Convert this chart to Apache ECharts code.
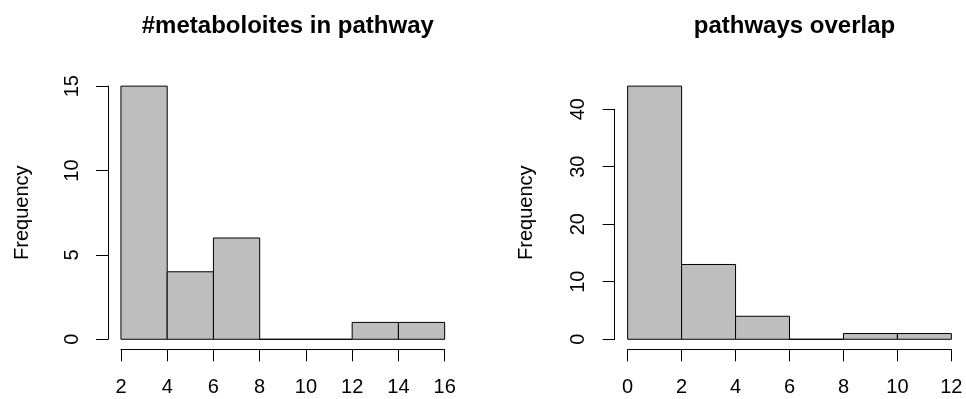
<!DOCTYPE html>
<html>
<head>
<meta charset="utf-8">
<title>Histograms</title>
<script src="https://cdn.jsdelivr.net/npm/echarts@6/dist/echarts.min.js"></script>
<style>
  html, body { margin: 0; padding: 0; background: #ffffff; }
  #chart { width: 966px; height: 399px; }
</style>
</head>
<body>
<div id="chart"></div>
<script>
// Histogram of metabolite counts per pathway
const metabBreaks = [2, 4, 6, 8, 10, 12, 14, 16];
const metabCounts = [15, 4, 6, 0, 0, 1, 1];
const metabXTicks = [2, 4, 6, 8, 10, 12, 14, 16];
const metabYTicks = [0, 5, 10, 15];

// Histogram of pathway overlaps
const overlapBreaks = [0, 2, 4, 6, 8, 10, 12];
const overlapCounts = [44, 13, 4, 0, 1, 1];
const overlapXTicks = [0, 2, 4, 6, 8, 10, 12];
const overlapYTicks = [0, 10, 20, 30, 40];

const titles = ['#metaboloites in pathway', 'pathways overlap'];
const yName = 'Frequency';

const FONT = '"Liberation Sans", Arial, Helvetica, sans-serif';
const INK = '#000000';
const BAR_FILL = '#BEBEBE';

// plot regions (pixels) for the two panels
const regions = [
  { left: 108, top: 76, width: 349.6, height: 273.4, nameGap: 76 },
  { left: 614.7, top: 76, width: 349.6, height: 273.4, nameGap: 78 }
];

const panels = [
  { breaks: metabBreaks, counts: metabCounts, xt: metabXTicks, yt: metabYTicks },
  { breaks: overlapBreaks, counts: overlapCounts, xt: overlapXTicks, yt: overlapYTicks }
];

const option = {
  animation: false,
  backgroundColor: '#ffffff',
  title: [],
  grid: [],
  xAxis: [],
  yAxis: [],
  series: []
};

panels.forEach(function (p, i) {
  const r = regions[i];
  const bmin = p.breaks[0], bmax = p.breaks[p.breaks.length - 1];
  const cmax = Math.max.apply(null, p.counts);
  // usual 4% padding of the data range on both axes
  const xlo = bmin - 0.04 * (bmax - bmin), xhi = bmax + 0.04 * (bmax - bmin);
  const ylo = -0.04 * cmax, yhi = cmax * 1.04;

  const toPx = function (v) { return r.left + (v - xlo) / (xhi - xlo) * r.width; };
  const toPy = function (v) { return r.top + (yhi - v) / (yhi - ylo) * r.height; };

  const xt0 = p.xt[0], xt1 = p.xt[p.xt.length - 1];
  const yt0 = p.yt[0], yt1 = p.yt[p.yt.length - 1];

  const gData = option.grid.length;
  // data grid
  option.grid.push({ left: r.left, top: r.top, width: r.width, height: r.height, containLabel: false });
  // x-axis grid (spans first..last tick)
  option.grid.push({ left: toPx(xt0), width: toPx(xt1) - toPx(xt0), top: r.top, height: r.height });
  // y-axis grid (spans first..last tick)
  option.grid.push({ left: r.left, width: r.width, top: toPy(yt1), height: toPy(yt0) - toPy(yt1) });

  const hiddenX = function (g) { return { type: 'value', gridIndex: g, show: false, min: 0, max: 1 }; };
  const hiddenY = function (g) { return { type: 'value', gridIndex: g, show: false, min: 0, max: 1 }; };

  // data grid axes
  option.xAxis.push({ type: 'value', gridIndex: gData, min: xlo, max: xhi, show: false });
  option.yAxis.push({
    type: 'value', gridIndex: gData, min: ylo, max: yhi,
    name: yName, nameLocation: 'middle', nameGap: r.nameGap,
    nameTextStyle: { fontFamily: FONT, fontSize: 20, color: INK },
    axisLine: { show: false }, axisTick: { show: false },
    axisLabel: { show: false }, splitLine: { show: false }
  });

  // visible x axis
  option.xAxis.push({
    type: 'value', gridIndex: gData + 1, min: xt0, max: xt1, interval: p.xt[1] - p.xt[0],
    axisLine: { show: true, lineStyle: { color: INK, width: 1 } },
    axisTick: { show: true, length: 12, lineStyle: { color: INK, width: 1 } },
    axisLabel: { show: true, margin: 28, fontFamily: FONT, fontSize: 20, color: INK,
      showMinLabel: true, showMaxLabel: true, hideOverlap: false },
    splitLine: { show: false }
  });
  option.yAxis.push(hiddenY(gData + 1));

  // visible y axis
  option.xAxis.push(hiddenX(gData + 2));
  option.yAxis.push({
    type: 'value', gridIndex: gData + 2, min: yt0, max: yt1, interval: p.yt[1] - p.yt[0],
    axisLine: { show: true, lineStyle: { color: INK, width: 1 } },
    axisTick: { show: true, length: 12, lineStyle: { color: INK, width: 1 } },
    axisLabel: { show: true, rotate: 90, margin: 26, fontFamily: FONT, fontSize: 20, color: INK,
      showMinLabel: true, showMaxLabel: true },
    splitLine: { show: false }
  });

  option.title.push({
    text: titles[i],
    left: r.left + r.width / 2,
    textAlign: 'center',
    top: 9,
    textStyle: { fontFamily: FONT, fontSize: 24, fontWeight: 'bold', color: INK }
  });

  const binData = p.counts.map(function (c, k) { return [p.breaks[k], p.breaks[k + 1], c]; });
  option.series.push({
    type: 'custom',
    xAxisIndex: gData,
    yAxisIndex: gData,
    data: binData,
    encode: { x: [0, 1], y: 2 },
    renderItem: function (params, api) {
      const a = api.coord([api.value(0), api.value(2)]);
      const b = api.coord([api.value(1), 0]);
      return {
        type: 'rect',
        shape: { x: a[0], y: a[1], width: b[0] - a[0], height: b[1] - a[1] },
        style: { fill: BAR_FILL, stroke: INK, lineWidth: 1 }
      };
    }
  });
});

const chart = echarts.init(document.getElementById('chart'), null, { renderer: 'canvas' });
chart.setOption(option);
</script>
</body>
</html>
